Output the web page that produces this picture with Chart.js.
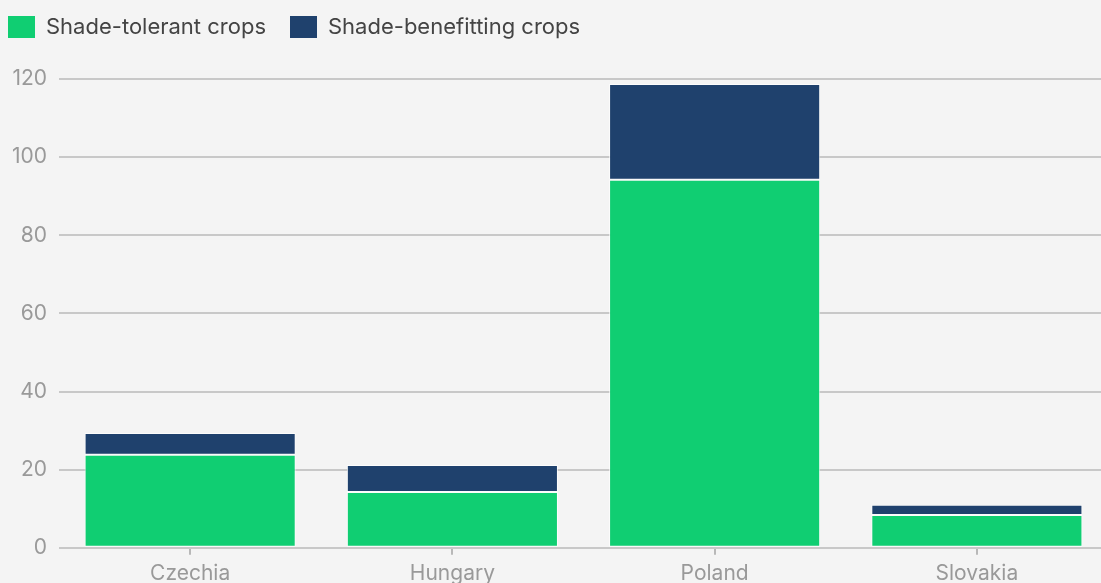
<!DOCTYPE html>
<html>
<head>
<meta charset="utf-8">
<script src="https://cdn.jsdelivr.net/npm/chart.js@4/dist/chart.umd.min.js"></script>
<style>
  html, body { margin: 0; padding: 0; background: #f4f4f4; overflow: hidden; }
  #wrap { width: 1108px; height: 592px; }
</style>
</head>
<body>
<div id="wrap"><canvas id="c" width="1108" height="592"></canvas></div>
<script>
const categories = ["Czechia", "Hungary", "Poland", "Slovakia"];
const shadeTolerant = [23.8, 14.3, 94.2, 8.4];
const shadeBenefitting = [5.6, 6.9, 24.5, 2.6];
const yTicks = [0, 20, 40, 60, 80, 100, 120];

const bg = {
  id: 'bg',
  beforeDraw(chart) {
    const ctx = chart.ctx;
    ctx.save();
    ctx.fillStyle = '#f4f4f4';
    ctx.fillRect(0, 0, chart.width, chart.height);
    ctx.restore();
  }
};

// extra space under the legend row, and the row nudged to the top-left corner
const legendPlace = {
  id: 'legendPlace',
  beforeInit(chart) {
    const fit = chart.legend.fit;
    chart.legend.fit = function () {
      fit.call(this);
      this.height += 19;
    };
  },
  afterLayout(chart) {
    chart.legend.left -= 16;
    chart.legend.top -= 12;
  }
};

new Chart(document.getElementById('c'), {
  type: 'bar',
  data: {
    labels: categories,
    datasets: [
      {
        label: 'Shade-tolerant crops',
        data: shadeTolerant,
        backgroundColor: '#10ce72',
        borderColor: 'rgba(255,255,255,0.75)',
        borderWidth: 1,
        borderSkipped: false
      },
      {
        label: 'Shade-benefitting crops',
        data: shadeBenefitting,
        backgroundColor: '#1f416d',
        borderColor: 'rgba(255,255,255,0.75)',
        borderWidth: 1,
        borderSkipped: false
      }
    ]
  },
  options: {
    responsive: false,
    animation: false,
    devicePixelRatio: 1,
    layout: { padding: { left: 0, right: 0, top: 4, bottom: 0 } },
    datasets: { bar: { categoryPercentage: 1, barPercentage: 0.805 } },
    plugins: {
      legend: {
        position: 'top',
        align: 'start',
        labels: {
          boxWidth: 27,
          boxHeight: 22,
          padding: 24,
          color: '#444',
          font: { family: 'Inter', size: 22 },
          generateLabels(chart) {
            const items = Chart.defaults.plugins.legend.labels.generateLabels(chart);
            items.forEach(it => { it.lineWidth = 0; });
            return items;
          }
        }
      },
      tooltip: { enabled: false }
    },
    scales: {
      x: {
        stacked: true,
        grid: { drawOnChartArea: false, drawTicks: true, tickLength: 7, color: '#c0c0c0', tickColor: '#b8b8b8', tickWidth: 2, lineWidth: 2, offset: false },
        border: { display: false },
        ticks: { color: '#999', font: { family: 'Inter', size: 21 }, padding: 6 }
      },
      y: {
        stacked: true,
        min: 0,
        max: 120,
        afterBuildTicks(axis) { axis.ticks = yTicks.map(v => ({ value: v })); },
        grid: { color: '#c8c8c8', lineWidth: 2, drawTicks: false },
        border: { display: false },
        ticks: { color: '#999', font: { family: 'Inter', size: 21 }, padding: 12 }
      }
    }
  },
  plugins: [bg, legendPlace]
});
</script>
</body>
</html>
